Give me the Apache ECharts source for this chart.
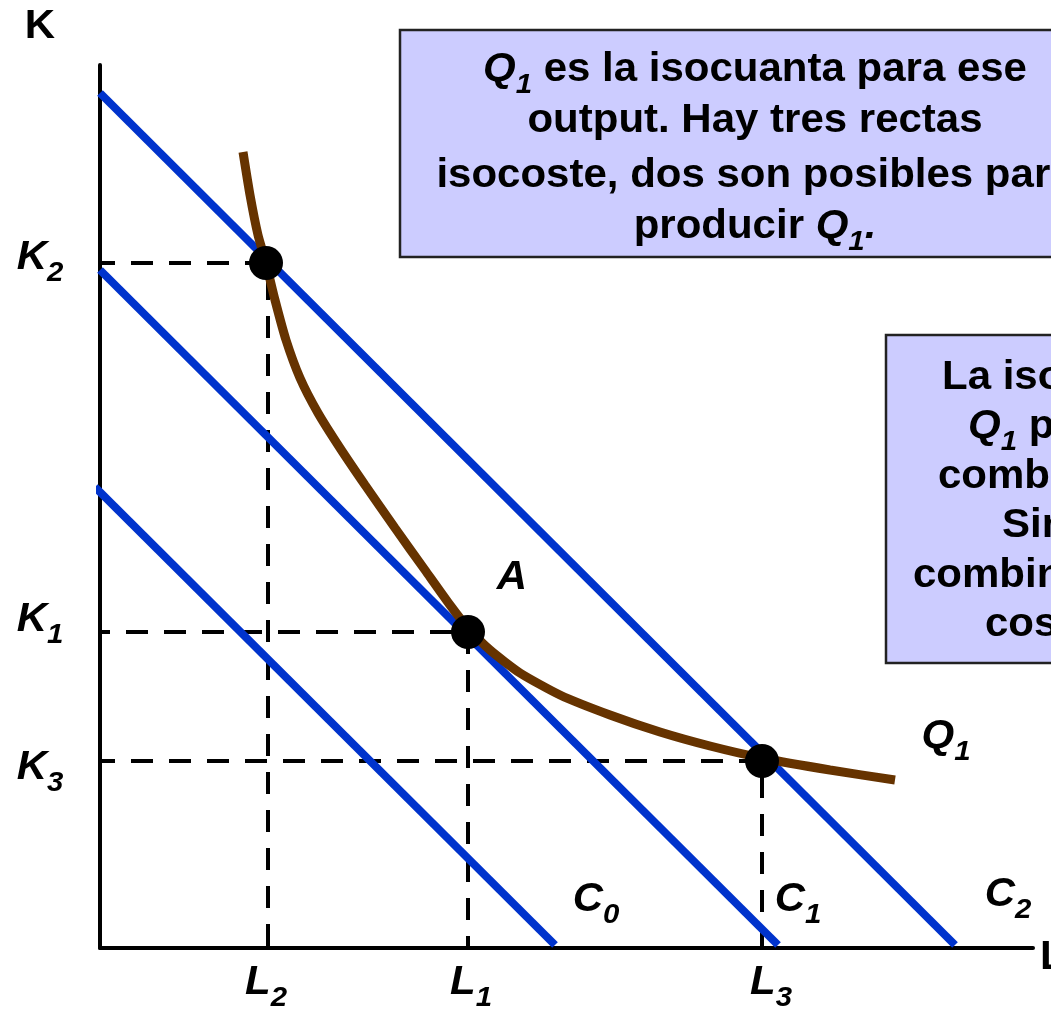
<!DOCTYPE html>
<html>
<head>
<meta charset="utf-8">
<script src="https://cdn.jsdelivr.net/npm/echarts@6/dist/echarts.min.js"></script>
<style>
  html, body { margin: 0; padding: 0; background: #fff; }
  #chart { width: 1051px; height: 1016px; }
</style>
</head>
<body>
<div id="chart"></div>
<script>
// rectas isocoste (extremos en unidades de L y K)
const isocostC0 = [[-5, 461], [455, 3]];
const isocostC1 = [[0, 678], [678, 3]];
const isocostC2 = [[0, 855], [855, 3]];

// isocuanta Q1
const isoquantQ1 = [
  [143, 796], [150, 753], [158, 713], [166, 685], [175, 648], [186, 608],
  [200, 570], [218, 535], [240, 500], [265, 463], [295, 420], [325, 378],
  [350, 343], [368, 320], [390, 298], [420, 275], [460, 253], [510, 233],
  [560, 216], [610, 202], [662, 190], [730, 178], [795, 168]
];

// combinaciones marcadas: (L2,K2), A = (L1,K1), (L3,K3)
const choicePoints = [[166, 685], [368, 316], [662, 187]];

// lineas de referencia punteadas
const guideK2L2 = [[-7, 685], [168, 685], [168, 0]];
const guideK1L1 = [[-12, 316], [368, 316], [368, 0]];
const guideK3L3 = [[-7, 187], [662, 187], [662, 0]];

const FONT = '"Liberation Sans", Arial, sans-serif';
const BLUE = '#0033cc';
const BROWN = '#663300';
const MAIN = 40, SUB = 28, SUB_DY = 15, SX = 1.05;

const ctx = document.createElement('canvas').getContext('2d');

// '{i|Q}{s|1}{t| es ...}' -> grupo de textos con subindices
function label(x, y, markup, align) {
  const children = [];
  let cx = 0;
  const re = /\{(\w)\|([^}]*)\}/g;
  let m;
  while ((m = re.exec(markup))) {
    const kind = m[1], str = m[2];
    const size = kind === 's' ? SUB : MAIN;
    const italic = kind !== 't';
    ctx.font = (italic ? 'italic ' : '') + 'bold ' + size + 'px ' + FONT;
    const w = ctx.measureText(str).width;
    children.push({
      type: 'text', x: cx, y: kind === 's' ? SUB_DY : 0, z: 100,
      style: {
        text: str, fill: '#000', fontFamily: FONT, fontSize: size, fontWeight: 'bold',
        fontStyle: italic ? 'italic' : 'normal', align: 'left', verticalAlign: 'middle'
      }
    });
    cx += w;
  }
  if (align !== 'left') children.forEach(c => { c.x -= cx / 2; });
  return { type: 'group', x: x, y: y, scaleX: SX, z: 100, children: children };
}

function guide(data) {
  return {
    type: 'line', data: data, symbol: 'none', clip: false, z: 1,
    lineStyle: { color: '#000', width: 4, type: [22, 16] }
  };
}

function isocost(data) {
  return {
    type: 'line', data: data, symbol: 'none', clip: false, z: 2,
    lineStyle: { color: BLUE, width: 8, cap: 'butt' }
  };
}

const chart = echarts.init(document.getElementById('chart'));

chart.setOption({
  animation: false,
  backgroundColor: '#fff',
  grid: { left: 100, top: 65, right: 18, bottom: 68 },
  xAxis: {
    type: 'value', min: 0, max: 933,
    axisLine: { lineStyle: { color: '#000', width: 4 } },
    axisTick: { show: false }, axisLabel: { show: false }, splitLine: { show: false }
  },
  yAxis: {
    type: 'value', min: 0, max: 883,
    axisLine: { show: true, lineStyle: { color: '#000', width: 4 } },
    axisTick: { show: false }, axisLabel: { show: false }, splitLine: { show: false }
  },
  series: [
    guide(guideK2L2),
    guide(guideK1L1),
    guide(guideK3L3),
    isocost(isocostC0),
    isocost(isocostC1),
    isocost(isocostC2),
    {
      type: 'line', data: isoquantQ1, symbol: 'none', smooth: 0.2, z: 3,
      lineStyle: { color: BROWN, width: 9 }
    },
    {
      type: 'scatter', data: choicePoints, symbolSize: 34, z: 4,
      itemStyle: { color: '#000', opacity: 1 }
    }
  ],
  graphic: [
    // recuadros de texto
    {
      type: 'rect', z: 90,
      shape: { x: 400, y: 30, width: 720, height: 227 },
      style: { fill: '#ccccff', stroke: '#222', lineWidth: 2.5 }
    },
    {
      type: 'rect', z: 90,
      shape: { x: 886, y: 335, width: 320, height: 328 },
      style: { fill: '#ccccff', stroke: '#222', lineWidth: 2.5 }
    },
    label(755, 70, '{i|Q}{s|1}{t| es la isocuanta para ese}'),
    label(755, 121, '{t|output. Hay tres rectas}'),
    label(755, 176, '{t|isocoste, dos son posibles para}'),
    label(755, 227, '{t|producir }{i|Q}{s|1}{i|.}'),

    label(942, 378, '{t|La isocoste }{i|C}{s|2}{t| muestra que}', 'left'),
    label(968, 427, '{i|Q}{s|1}{t| puede producirse con la}', 'left'),
    label(938, 477, '{t|combinación }{i|K}{s|2}{i|L}{s|2}{t| o }{i|K}{s|3}{i|L}{s|3}', 'left'),
    label(1002, 526, '{t|Sin embargo, ambas son}', 'left'),
    label(913, 576, '{t|combinaciones de mayor}', 'left'),
    label(985, 625, '{t|coste que }{i|K}{s|1}{i|L}{s|1}{t|.}', 'left'),

    // ejes
    label(40, 27, '{t|K}'),
    label(1040, 958, '{t|L}', 'left'),
    label(40, 258, '{i|K}{s|2}'),
    label(40, 620, '{i|K}{s|1}'),
    label(40, 768, '{i|K}{s|3}'),
    label(266, 983, '{i|L}{s|2}'),
    label(471, 983, '{i|L}{s|1}'),
    label(771, 983, '{i|L}{s|3}'),
    label(596, 900, '{i|C}{s|0}'),
    label(798, 900, '{i|C}{s|1}'),
    label(1008, 895, '{i|C}{s|2}'),
    label(946, 737, '{i|Q}{s|1}'),
    label(512, 578, '{i|A}')
  ]
});
</script>
</body>
</html>
